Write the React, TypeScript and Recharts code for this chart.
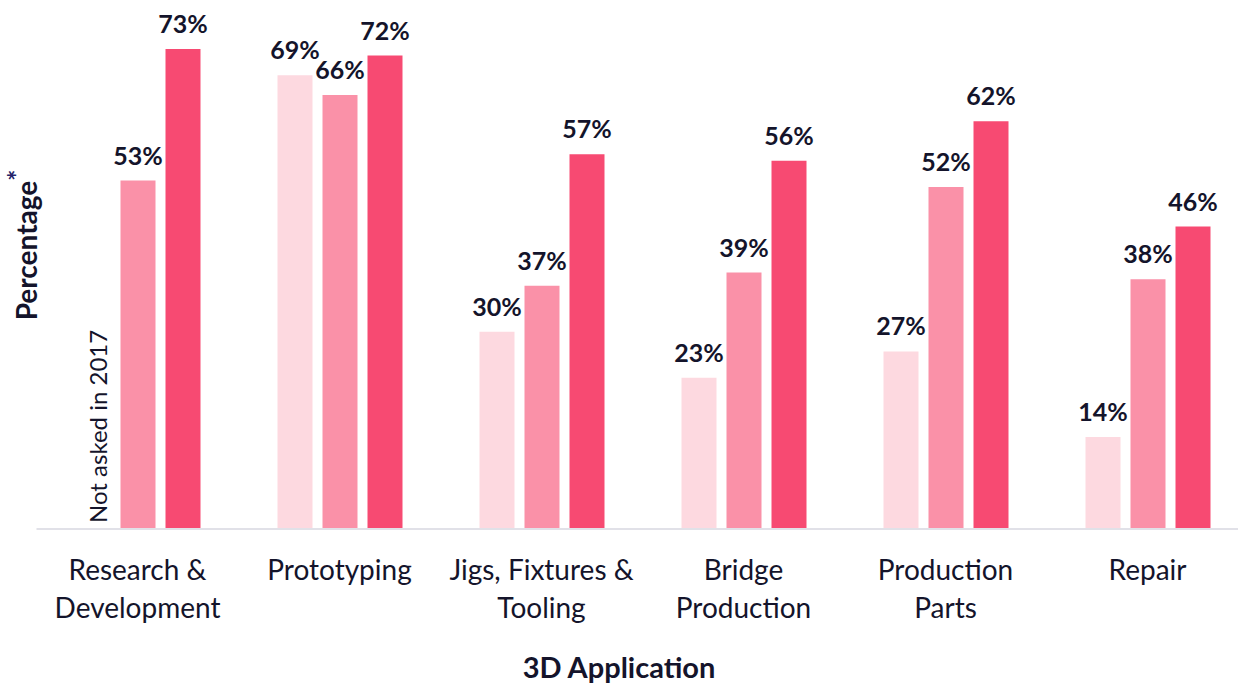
import React from 'react';
import { BarChart, Bar, XAxis, YAxis, LabelList } from 'recharts';

const categories = ['Research &\nDevelopment', 'Prototyping', 'Jigs, Fixtures &\nTooling', 'Bridge\nProduction', 'Production\nParts', 'Repair'];
const series2017 = [null, 69, 30, 23, 27, 14];
const series2018 = [53, 66, 37, 39, 52, 38];
const series2019 = [73, 72, 57, 56, 62, 46];
const seriesNames = ['2017', '2018', '2019'];
const colors = ['#fdd9e0', '#fa91a8', '#f74a72'];

const data = categories.map((c, i) => ({
  name: c,
  s2017: series2017[i],
  s2018: series2018[i],
  s2019: series2019[i],
}));

const TEXT = '#14142b';
const FONT = 'Lato, "Open Sans", sans-serif';

const Tick = (props: any) => {
  const { x, y, payload } = props;
  const lines = String(payload.value).split('\n');
  return (
    <text x={x} y={y + 43} textAnchor="middle" fill={TEXT} fontFamily={FONT} fontSize={28}>
      {lines.map((l, i) => (
        <tspan key={i} x={x} dy={i === 0 ? 0 : 38}>{l}</tspan>
      ))}
    </text>
  );
};

const ValueLabel = (props: any) => {
  const { x, y, width, value } = props;
  if (value === null || value === undefined) return null;
  return (
    <text x={x + width / 2} y={y - 16} textAnchor="middle" fill={TEXT} fontFamily={FONT} fontWeight={700} fontSize={25}>
      {value}%
    </text>
  );
};

const MidLabel = (props: any) => {
  const { x, y, height, index } = props;
  const tx = x - 14;
  const ty = y + height - 6;
  return (
    <g>
      <ValueLabel {...props} />
      {index === 0 && series2017[0] === null ? (
        <text
          x={tx}
          y={ty}
          transform={`rotate(-90 ${tx} ${ty})`}
          textAnchor="start"
          fill={TEXT}
          fontFamily={FONT}
          fontSize={24}
        >
          Not asked in 2017
        </text>
      ) : null}
    </g>
  );
};

export default function App() {
  return (
    <div style={{ position: 'absolute', left: 0, top: 0, width: 1238, height: 684, overflow: 'hidden', background: '#fff' }}>
      <BarChart
        width={1260}
        height={684}
        data={data}
        margin={{ top: 3, left: 36.5, right: 11.5, bottom: 0 }}
        barSize={35}
        barGap={10}
      >
        <XAxis
          dataKey="name"
          height={155}
          tickLine={false}
          axisLine={{ stroke: '#e1e1e8', strokeWidth: 2 }}
          tick={<Tick />}
          interval={0}
          label={{
            content: () => (
              <text x={619} y={678} textAnchor="middle" fill={TEXT} fontFamily={FONT} fontWeight={700} fontSize={29}>
                3D Application
              </text>
            ),
          }}
        />
        <YAxis hide domain={[0, 80]} />
        <Bar dataKey="s2017" name={seriesNames[0]} fill={colors[0]} isAnimationActive={false}>
          <LabelList dataKey="s2017" content={<ValueLabel />} />
        </Bar>
        <Bar dataKey="s2018" name={seriesNames[1]} fill={colors[1]} isAnimationActive={false}>
          <LabelList dataKey="s2018" content={<MidLabel />} />
        </Bar>
        <Bar dataKey="s2019" name={seriesNames[2]} fill={colors[2]} isAnimationActive={false}>
          <LabelList dataKey="s2019" content={<ValueLabel />} />
        </Bar>
        <g>
          <text
            x={37}
            y={245}
            transform="rotate(-90 37 245)"
            textAnchor="middle"
            fill={TEXT}
            fontFamily={FONT}
            fontWeight={700}
            fontSize={28}
          >
            Percentage
            <tspan fill="#23236a" dy={-10} fontSize={26}>*</tspan>
          </text>
        </g>
      </BarChart>
    </div>
  );
}
